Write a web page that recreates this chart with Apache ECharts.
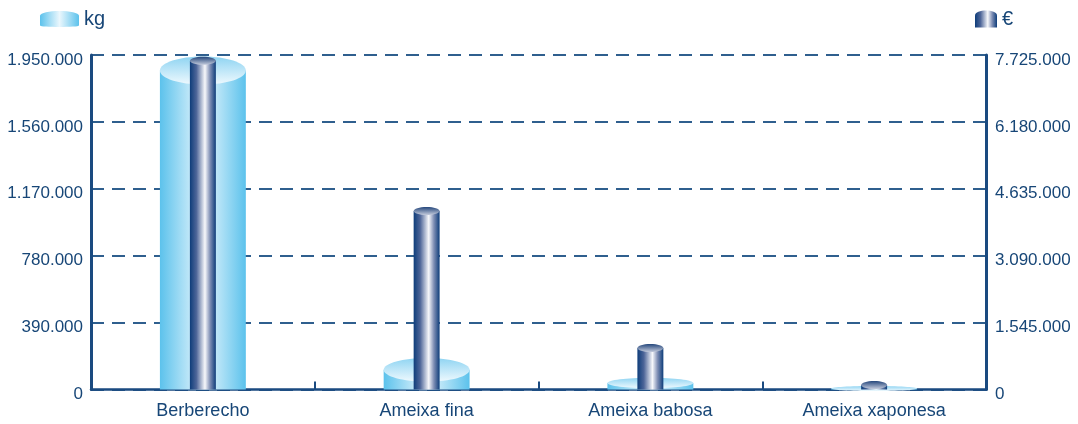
<!DOCTYPE html>
<html>
<head>
<meta charset="utf-8">
<script src="https://cdn.jsdelivr.net/npm/echarts@6/dist/echarts.min.js"></script>
<style>
html,body{margin:0;padding:0;background:#fff;}
#chart{width:1078px;height:424px;}
</style>
</head>
<body>
<div id="chart"></div>
<script>
const categories = ['Berberecho', 'Ameixa fina', 'Ameixa babosa', 'Ameixa xaponesa'];
const kgValues = [1860000, 115000, 38000, 6000];
const euroValues = [7590000, 4122000, 958000, 104000];
const kgTicks = { min: 0, max: 1950000, interval: 390000 };
const euroTicks = { min: 0, max: 7725000, interval: 1545000 };

const TEXT = '#174677';
const AXIS = '#1a4a80';
const FONT = '"Liberation Sans", Arial, sans-serif';

function fmt(v) { return String(v).replace(/\B(?=(\d{3})+(?!\d))/g, '.'); }

function hGrad(stops) {
  return new echarts.graphic.LinearGradient(0, 0, 1, 0, stops.map(s => ({ offset: s[0], color: s[1] })));
}
function vGrad(stops) {
  return new echarts.graphic.LinearGradient(0, 0, 0, 1, stops.map(s => ({ offset: s[0], color: s[1] })));
}

const lightBody = [[0, '#5cc2ec'], [0.5, '#eaf7fd'], [1, '#5cc2ec']];
const lightTop = [[0, '#8fd4f2'], [1, '#eef9fe']];
const darkBody = [[0, '#0e3d7a'], [0.25, '#4d6598'], [0.58, '#f7f8fb'], [0.78, '#7e8eb4'], [1, '#0e3d7a']];
const darkTop = [[0, '#25477c'], [1, '#c4cbdc']];

function cylinder(ratio, ryMax, body, topc) {
  return function (params, api) {
    const idx = api.value(0), val = api.value(1);
    const top = api.coord([idx, val]);
    const base = api.coord([idx, 0]);
    const bw = api.size([1, 0])[0] * ratio;
    const cx = top[0];
    const h = base[1] - top[1];
    const ry = Math.min(ryMax, h * 0.5 + 2);
    return {
      type: 'group',
      children: [
        { type: 'rect', shape: { x: cx - bw / 2, y: top[1], width: bw, height: h },
          style: { fill: hGrad(body) } },
        { type: 'ellipse', shape: { cx: cx, cy: top[1], rx: bw / 2, ry: ry },
          style: { fill: vGrad(topc) } }
      ]
    };
  };
}

const chart = echarts.init(document.getElementById('chart'), null, { renderer: 'canvas' });
chart.setOption({
  animation: false,
  textStyle: { fontFamily: FONT },
  legend: [
    { data: ['kg'], left: 40, top: 9, padding: 0, itemWidth: 39, itemHeight: 17, itemGap: 6, selectedMode: false,
      icon: 'path://M0,5 C0,-1.6 40,-1.6 40,5 L40,15 C40,17 0,17 0,15 Z',
      textStyle: { color: TEXT, fontSize: 20, fontFamily: FONT } },
    { data: ['€'], left: 975, top: 9, padding: 0, itemWidth: 22, itemHeight: 17, itemGap: 6, selectedMode: false,
      icon: 'path://M0,5 C0,-1.6 22,-1.6 22,5 L22,17 L0,17 Z',
      textStyle: { color: TEXT, fontSize: 20, fontFamily: FONT } }
  ],
  grid: { left: 91, right: 92, top: 55, bottom: 34.5 },
  xAxis: {
    type: 'category',
    data: categories,
    axisLine: { lineStyle: { color: AXIS, width: 2.5 } },
    axisTick: { show: true, inside: true, length: 8, lineStyle: { color: AXIS, width: 2 } },
    axisLabel: { color: TEXT, fontSize: 18, margin: 13, fontFamily: FONT }
  },
  yAxis: [
    { type: 'value', min: kgTicks.min, max: kgTicks.max, interval: kgTicks.interval,
      axisLine: { show: true, lineStyle: { color: AXIS, width: 3 } },
      axisTick: { show: false },
      axisLabel: { color: TEXT, fontSize: 17, margin: 8, formatter: fmt, verticalAlign: 'top', lineHeight: 10, fontFamily: FONT },
      splitLine: { show: true, lineStyle: { color: '#2f5f8e', width: 2, type: [13, 8] } } },
    { type: 'value', min: euroTicks.min, max: euroTicks.max, interval: euroTicks.interval,
      axisLine: { show: true, lineStyle: { color: AXIS, width: 3 } },
      axisTick: { show: false },
      axisLabel: { color: TEXT, fontSize: 17, margin: 9, formatter: fmt, verticalAlign: 'top', lineHeight: 10, fontFamily: FONT },
      splitLine: { show: false } }
  ],
  series: [
    { name: 'kg', type: 'custom', xAxisIndex: 0, yAxisIndex: 0, z: 2,
      itemStyle: { color: hGrad(lightBody) },
      encode: { x: 0, y: 1 },
      renderItem: cylinder(0.384, 14, lightBody, lightTop),
      data: categories.map((c, i) => [i, kgValues[i]]) },
    { name: '€', type: 'custom', xAxisIndex: 0, yAxisIndex: 1, z: 3,
      itemStyle: { color: hGrad(darkBody) },
      encode: { x: 0, y: 1 },
      renderItem: cylinder(0.116, 4, darkBody, darkTop),
      data: categories.map((c, i) => [i, euroValues[i]]) }
  ]
});
</script>
</body>
</html>
